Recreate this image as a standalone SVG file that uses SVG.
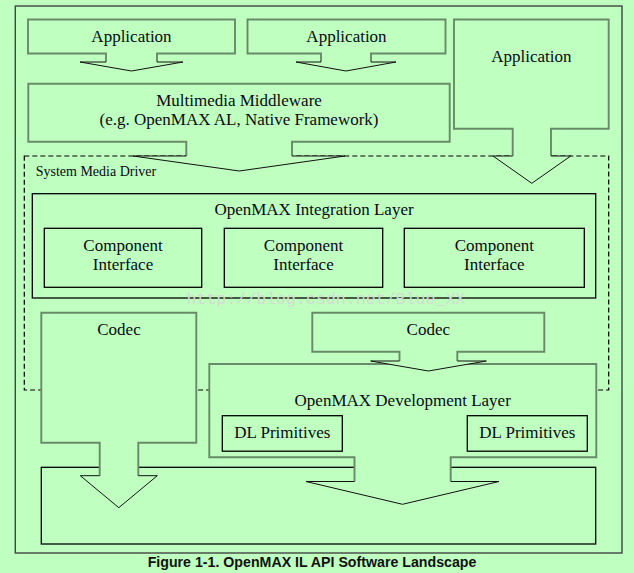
<svg xmlns="http://www.w3.org/2000/svg" width="634" height="573" viewBox="0 0 634 573">
<style>
.bg{fill:#bfffbf}
.fillonly{fill:#bfffbf;stroke:none}
.gray{fill:none;stroke:#688a68;stroke-width:1.9}
.blk{fill:#bfffbf;stroke:#000;stroke-width:1.3}
.wing{fill:none;stroke:#111;stroke-width:1}
.t{font-family:"Liberation Serif","Times New Roman",serif;font-size:17px;fill:#0a0a14;text-anchor:middle}
.ts{font-family:"Liberation Serif","Times New Roman",serif;font-size:14px;fill:#0a0a14}
.cap{font-family:"Liberation Sans",Arial,sans-serif;font-size:14.2px;font-weight:bold;fill:#111;text-anchor:middle}
.wm{font-family:"Liberation Mono","Courier New",monospace;font-size:16.6px;fill:#d2dcd2}
</style>
<rect x="0" y="0" width="634" height="573" class="bg"/>
<rect id="frame" x="15.3" y="6" width="606.7" height="547" fill="none" stroke="#444" stroke-width="1.4"/>
<g id="system-media-driver">
<rect x="24.3" y="156" width="584.4" height="234" fill="none" stroke="#000" stroke-width="1.2" stroke-dasharray="5,3"/>
<text class="ts" x="35.7" y="175.5">System Media Driver</text>
</g>
<g id="app1">
<path class="fillonly" d="M28,19.5 H235 V53.5 H157 V62 H183 L131.5,71 L80,62 H106 V53.5 H28 Z"/>
<path class="gray" d="M106,62 V53.5 H28 V19.5 H235 V53.5 H157 V62"/>
<text class="t" x="131.5" y="41.7">Application</text>
</g>
<g id="app2">
<path class="fillonly" d="M247.5,19.5 H445.5 V53.5 H371 V62 H396 L346,71 L296,62 H321 V53.5 H247.5 Z"/>
<path class="gray" d="M321,62 V53.5 H247.5 V19.5 H445.5 V53.5 H371 V62"/>
<text class="t" x="346.5" y="41.7">Application</text>
</g>
<g id="app3">
<path class="fillonly" d="M454,19.5 H608.7 V128.7 H551 V156 H570.7 L531.8,183.3 L493,156 H512.7 V128.7 H454 Z"/>
<path class="gray" d="M512.7,156 V128.7 H454 V19.5 H608.7 V128.7 H551 V156"/>
<text class="t" x="531.3" y="61.7">Application</text>
</g>
<g id="middleware">
<path class="fillonly" d="M28.3,83.7 H449.7 V141.7 H292 V156 H345 L239.3,171 L133,156 H186.3 V141.7 H28.3 Z"/>
<path class="gray" d="M186.3,156 V141.7 H28.3 V83.7 H449.7 V141.7 H292 V156"/>
<text class="t" x="239" y="106">Multimedia Middleware</text>
<text class="t" x="239" y="125">(e.g. OpenMAX AL, Native Framework)</text>
</g>
<g id="integration-layer">
<rect class="blk" x="32.3" y="193.7" width="563.4" height="104.3"/>
<text class="t" x="314" y="215.3">OpenMAX Integration Layer</text>
</g>
<g id="component1">
<rect class="blk" x="44.3" y="228.3" width="157.4" height="59"/>
<text class="t" x="123" y="250.7">Component</text>
<text class="t" x="123" y="270">Interface</text>
</g>
<g id="component2">
<rect class="blk" x="224.3" y="228.3" width="158.4" height="59"/>
<text class="t" x="303.5" y="250.7">Component</text>
<text class="t" x="303.5" y="270">Interface</text>
</g>
<g id="component3">
<rect class="blk" x="404.3" y="228.3" width="180" height="59"/>
<text class="t" x="494.3" y="250.7">Component</text>
<text class="t" x="494.3" y="270">Interface</text>
</g>
<g id="bottom-box">
<rect class="blk" x="41.3" y="467.3" width="554.4" height="76.7"/>
</g>
<g id="codec-left">
<path class="fillonly" d="M41.3,312.7 H196.3 V442.7 H138.3 V475.7 H157.3 L118.8,507.7 L80.3,475.7 H99.7 V442.7 H41.3 Z"/>
<path class="gray" d="M99.7,475.7 V442.7 H41.3 V312.7 H196.3 V442.7 H138.3 V475.7"/>
<text class="t" x="119" y="335.3">Codec</text>
</g>
<g id="development-layer">
<path class="fillonly" d="M209.3,364 H596.3 V457.3 H450.7 V481.5 H499 L402.5,504.3 L306,481.5 H354.5 V457.3 H209.3 Z"/>
<path class="gray" d="M354.5,481.5 V457.3 H209.3 V364 H596.3 V457.3 H450.7 V481.5"/>
<text class="t" x="402.7" y="406">OpenMAX Development Layer</text>
</g>
<g id="dl-primitives1">
<rect class="blk" x="222.3" y="415.7" width="120" height="35.5"/>
<text class="t" x="282.3" y="438.3">DL Primitives</text>
</g>
<g id="dl-primitives2">
<rect class="blk" x="467.3" y="415.7" width="120" height="35.5"/>
<text class="t" x="527.3" y="438.3">DL Primitives</text>
</g>
<g id="codec-right">
<path class="fillonly" d="M312.3,312.7 H544.3 V351.7 H457.3 V361 H486.3 L428.4,371 L370.7,361 H399.5 V351.7 H312.3 Z"/>
<path class="gray" d="M399.5,361 V351.7 H312.3 V312.7 H544.3 V351.7 H457.3 V361"/>
<text class="t" x="428.3" y="335.3">Codec</text>
</g>
<g id="connectors">
<path class="wing" d="M106,62 H80 L131.5,71 L183,62 H157"/>
<path class="wing" d="M321,62 H296 L346,71 L396,62 H371"/>
<path class="wing" d="M512.7,156 H493 L531.8,183.3 L570.7,156 H551"/>
<path class="wing" d="M186.3,156 H133 L239.3,171 L345,156 H292"/>
<path class="wing" d="M99.7,475.7 H80.3 L118.8,507.7 L157.3,475.7 H138.3"/>
<path class="wing" d="M354.5,481.5 H306 L402.5,504.3 L499,481.5 H450.7"/>
<path class="wing" d="M399.5,361 H370.7 L428.4,371 L486.3,361 H457.3"/>
</g>
<text class="wm" x="186.5" y="304">http://blog.csdn.net/Blue_XX</text>
<text class="cap" x="312" y="567.3">Figure 1-1. OpenMAX IL API Software Landscape</text>
</svg>
